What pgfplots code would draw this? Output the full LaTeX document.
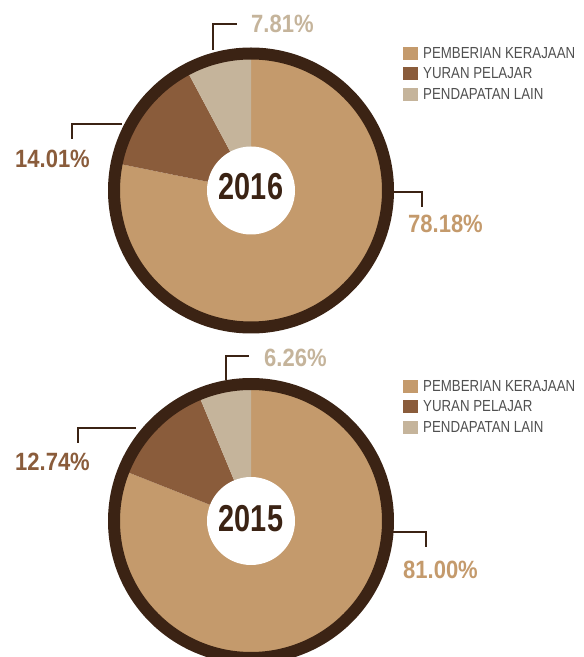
\documentclass[border=0pt]{standalone}
\usepackage{fontspec}
\usepackage{pgfplots}
\usepackage{pgfplotstable}
\pgfplotsset{compat=1.18}
\setmainfont{Liberation Sans}
\newfontfamily\pctfont[FakeStretch=0.88]{Liberation Sans}
\newfontfamily\yearfont[FakeStretch=0.77]{Liberation Sans}
\newfontfamily\legfont[FakeStretch=0.83]{Liberation Sans}
\definecolor{cpem}{HTML}{C49A6C}
\definecolor{cyur}{HTML}{8A5C3B}
\definecolor{clain}{HTML}{C5B49B}
\definecolor{cring}{HTML}{3B2314}
\definecolor{cleg}{HTML}{505050}

\pgfplotstableread{
year pember yuran lain
2016 78.18 14.01 7.81
2015 81.00 12.74 6.26
}\piedata

\pgfplotstablegetelem{0}{pember}\of\piedata \let\Apem\pgfplotsretval
\pgfplotstablegetelem{0}{yuran}\of\piedata \let\Ayur\pgfplotsretval
\pgfplotstablegetelem{0}{lain}\of\piedata \let\Alain\pgfplotsretval
\pgfplotstablegetelem{1}{pember}\of\piedata \let\Bpem\pgfplotsretval
\pgfplotstablegetelem{1}{yuran}\of\piedata \let\Byur\pgfplotsretval
\pgfplotstablegetelem{1}{lain}\of\piedata \let\Blain\pgfplotsretval

\pgfmathsetmacro{\AangA}{90-3.6*\Apem}
\pgfmathsetmacro{\AangB}{90-3.6*(\Apem+\Ayur)}
\pgfmathsetmacro{\BangA}{90-3.6*\Bpem}
\pgfmathsetmacro{\BangB}{90-3.6*(\Bpem+\Byur)}

% pie: cx, cy, angle1, angle2
\newcommand{\drawpie}[4]{%
  \fill[cpem] (axis cs:#1,#2) -- ++(90:132pt) arc[start angle=90, end angle=#3, radius=132pt] -- cycle;
  \fill[cyur] (axis cs:#1,#2) -- ++(#3:132pt) arc[start angle=#3, end angle=#4, radius=132pt] -- cycle;
  \fill[clain] (axis cs:#1,#2) -- ++(#4:132pt) arc[start angle=#4, end angle=-270, radius=132pt] -- cycle;
  \draw[cring, line width=12pt] (axis cs:#1,#2) circle[radius=137pt];
  \fill[white] (axis cs:#1,#2) circle[radius=44pt];
}
\newcommand{\mylegend}[1]{% top y (axis) of first square
  \fill[cpem] (axis cs:403,#1) rectangle ++(15pt,-13pt);
  \fill[cyur] (axis cs:403,#1-20.5) rectangle ++(15pt,-13pt);
  \fill[clain] (axis cs:403,#1-41) rectangle ++(15pt,-13pt);
  \node[anchor=base west, inner sep=0pt, text=cleg, font=\legfont\fontsize{16}{16}\selectfont] at (axis cs:423,#1-11.5) {PEMBERIAN KERAJAAN};
  \node[anchor=base west, inner sep=0pt, text=cleg, font=\legfont\fontsize{16}{16}\selectfont] at (axis cs:423,#1-32) {YURAN PELAJAR};
  \node[anchor=base west, inner sep=0pt, text=cleg, font=\legfont\fontsize{16}{16}\selectfont] at (axis cs:423,#1-52.5) {PENDAPATAN LAIN};
}

\begin{document}
\begin{tikzpicture}
\begin{axis}[
  width=584pt, height=657pt, scale only axis,
  xmin=0, xmax=584, ymin=0, ymax=657,
  hide axis, clip=true,
]
\path (axis cs:0,0) rectangle (axis cs:584,657);
% 2016
\drawpie{251}{466.5}{\AangA}{\AangB}
\node[anchor=base, inner sep=0pt, text=cring, font=\yearfont\bfseries\fontsize{37.5}{38}\selectfont] at (axis cs:251,457) {2016};
\draw[cring, line width=1.3pt] (axis cs:213,607) -- (axis cs:213,633) -- (axis cs:237,633);
\draw[cring, line width=1.3pt] (axis cs:122,533) -- (axis cs:72,533) -- (axis cs:72,518);
\draw[cring, line width=1.3pt] (axis cs:393,465) -- (axis cs:422,465) -- (axis cs:422,450);
\node[anchor=base west, inner sep=0pt, text=clain, font=\pctfont\bfseries\fontsize{25}{25}\selectfont] at (axis cs:251,624) {7.81\%};
\node[anchor=base west, inner sep=0pt, text=cyur, font=\pctfont\bfseries\fontsize{25}{25}\selectfont] at (axis cs:15,489) {14.01\%};
\node[anchor=base west, inner sep=0pt, text=cpem, font=\pctfont\bfseries\fontsize{25}{25}\selectfont] at (axis cs:408,424) {78.18\%};
\mylegend{610}
% 2015
\drawpie{251}{136}{\BangA}{\BangB}
\node[anchor=base, inner sep=0pt, text=cring, font=\yearfont\bfseries\fontsize{37.5}{38}\selectfont] at (axis cs:251,125) {2015};
\draw[cring, line width=1.3pt] (axis cs:226,277) -- (axis cs:226,301) -- (axis cs:249,301);
\draw[cring, line width=1.3pt] (axis cs:136,229) -- (axis cs:78,229) -- (axis cs:78,214);
\draw[cring, line width=1.3pt] (axis cs:392,125) -- (axis cs:426,125) -- (axis cs:426,110);
\node[anchor=base west, inner sep=0pt, text=clain, font=\pctfont\bfseries\fontsize{25}{25}\selectfont] at (axis cs:264,290) {6.26\%};
\node[anchor=base west, inner sep=0pt, text=cyur, font=\pctfont\bfseries\fontsize{25}{25}\selectfont] at (axis cs:15,186) {12.74\%};
\node[anchor=base west, inner sep=0pt, text=cpem, font=\pctfont\bfseries\fontsize{25}{25}\selectfont] at (axis cs:403,78) {81.00\%};
\mylegend{277}
\end{axis}
\end{tikzpicture}
\end{document}
